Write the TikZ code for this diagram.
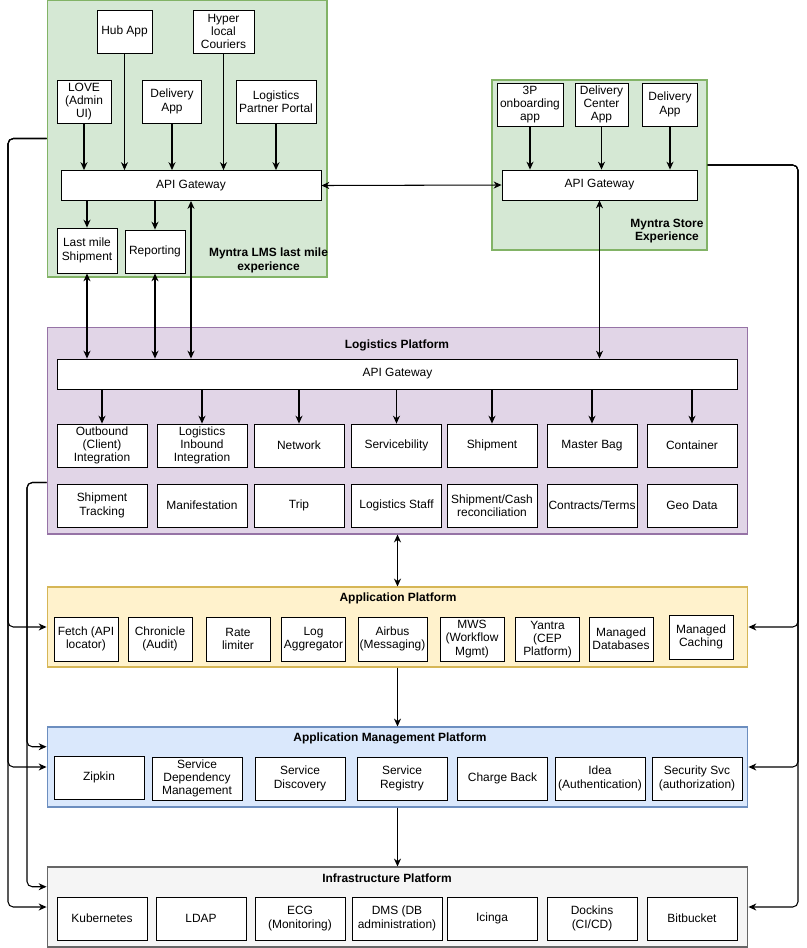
\documentclass[tikz,border=0pt]{standalone}
\usepackage{fontspec}
\setmainfont{Liberation Sans}
\usetikzlibrary{arrows.meta,calc}

\definecolor{lmsfill}{HTML}{D5E8D4}
\definecolor{lmsline}{HTML}{82B366}
\definecolor{lpfill}{HTML}{E1D5E7}
\definecolor{lpline}{HTML}{9673A6}
\definecolor{apfill}{HTML}{FFF2CC}
\definecolor{apline}{HTML}{D6B656}
\definecolor{ampfill}{HTML}{DAE8FC}
\definecolor{ampline}{HTML}{6C8EBF}
\definecolor{ipfill}{HTML}{F5F5F5}
\definecolor{ipline}{HTML}{666666}

\begin{document}
\begin{tikzpicture}[x=0.02cm, y=-0.02cm, font=\fontsize{6.8}{7.6}\selectfont]
    \tikzset{
      plat box/.style={draw, line width=0.6pt, inner sep=0pt},
      app box/.style={draw, fill=white, line width=0.5pt, align=center, inner sep=0.5pt,
        minimum width=1.8cm, minimum height=0.86cm},
      small box/.style={app box, minimum width=1.28cm, minimum height=0.88cm},
      gateway/.style={app box, minimum height=0.6cm},
      plat title/.style={font=\fontsize{6.8}{7.6}\selectfont\bfseries},
      group label/.style={font=\fontsize{6.8}{7.6}\selectfont\bfseries, align=center},
      conn/.style={-{Stealth[length=4.5pt,width=4pt]}, line width=0.6pt},
      biconn/.style={{Stealth[length=4.5pt,width=4pt]}-{Stealth[length=4.5pt,width=4pt]}, line width=0.6pt}
    }
    \useasboundingbox (0,0) rectangle (806,948);

    % Myntra LMS last mile experience
    \node[plat box, fill=lmsfill, draw=lmsline, minimum width=5.6cm, minimum height=5.54cm] (lms) at (187,138.5) {};
    \node[app box, minimum width=1.1cm] (hub) at (124.5,31.5) {Hub App};
    \node[app box, minimum width=1.22cm] (hyper) at (223.5,31.5) {Hyper\\local\\Couriers};
    \node[app box, minimum width=1.08cm] (love) at (84,101.5) {LOVE\\(Admin\\UI)};
    \node[app box, minimum width=1.18cm] (lmsdel) at (172,101.5) {Delivery\\App};
    \node[app box, minimum width=1.6cm] (partner) at (276,101.5) {Logistics\\Partner Portal};
    \node[gateway, minimum width=5.2cm] (lmsapi) at (191,185.5) {API Gateway};
    \node[app box, minimum width=1.2cm, minimum height=0.9cm] (lastmile) at (87,250.5) {Last mile\\Shipment};
    \node[app box, minimum width=1.2cm] (report) at (155,251.5) {Reporting};
    \node[group label] (lmslabel) at (268.5,260.5) {Myntra LMS last mile\\experience};

    % Myntra Store Experience
    \node[plat box, fill=lmsfill, draw=lmsline, minimum width=4.3cm, minimum height=3.4cm] (store) at (599.5,165) {};
    \node[app box, minimum width=1.32cm] (onboard) at (530,104.5) {3P\\onboarding\\app};
    \node[app box, minimum width=1.06cm] (dcapp) at (601.5,104.5) {Delivery\\Center\\App};
    \node[app box, minimum width=1.1cm] (storedel) at (670,104.5) {Delivery\\App};
    \node[gateway, minimum width=3.9cm] (storeapi) at (599.5,185) {API Gateway};
    \node[group label] (storelabel) at (667,231) {Myntra Store\\Experience};

    % Logistics Platform
    \node[plat box, fill=lpfill, draw=lpline, minimum width=14.02cm, minimum height=4.14cm] (lp) at (397.5,430.5) {};
    \node[plat title] (lptitle) at (397,345) {Logistics Platform};
    \node[gateway, minimum width=13.62cm] (lpapi) at (397.5,374) {API Gateway};
    \node[app box] (outbound) at (102,445.5) {Outbound\\(Client)\\Integration};
    \node[app box] (inbound) at (202,445.5) {Logistics\\Inbound\\Integration};
    \node[app box] (network) at (299,445.5) {Network};
    \node[app box] (service) at (396.5,445.5) {Servicebility};
    \node[app box] (shipment) at (492,445.5) {Shipment};
    \node[app box] (masterbag) at (592,445.5) {Master Bag};
    \node[app box] (container) at (692,445.5) {Container};
    \node[app box] (tracking) at (102,505.5) {Shipment\\Tracking};
    \node[app box] (manifest) at (202,505.5) {Manifestation};
    \node[app box] (trip) at (299,505.5) {Trip};
    \node[app box] (staff) at (396.5,505.5) {Logistics Staff};
    \node[app box] (cashrec) at (492,505.5) {Shipment/Cash\\reconciliation};
    \node[app box] (contracts) at (592,505.5) {Contracts/Terms};
    \node[app box] (geodata) at (692,505.5) {Geo Data};

    % Application Platform
    \node[plat box, fill=apfill, draw=apline, minimum width=14.02cm, minimum height=1.6cm] (ap) at (397.5,627) {};
    \node[plat title] (aptitle) at (398,598) {Application Platform};
    \node[small box] (fetch) at (86,639) {Fetch (API\\locator)};
    \node[small box] (chronicle) at (160,639) {Chronicle\\(Audit)};
    \node[small box] (ratelim) at (238,639) {Rate\\limiter};
    \node[small box] (logagg) at (313.5,639) {Log\\Aggregator};
    \node[small box, minimum width=1.38cm] (airbus) at (392.5,639) {Airbus\\(Messaging)};
    \node[small box] (mws) at (472,639) {MWS\\(Workflow\\Mgmt)};
    \node[small box] (yantra) at (547.5,639.5) {Yantra\\(CEP\\Platform)};
    \node[small box] (mdb) at (621,639) {Managed\\Databases};
    \node[small box] (mcache) at (701,637) {Managed\\Caching};

    % Application Management Platform
    \node[plat box, fill=ampfill, draw=ampline, minimum width=14.02cm, minimum height=1.6cm] (amp) at (397.5,767) {};
    \node[plat title] (amptitle) at (390,738) {Application Management Platform};
    \node[app box] (zipkin) at (99,777.5) {Zipkin};
    \node[app box] (sdm) at (197,778.5) {Service\\Dependency\\Management};
    \node[app box] (sdisc) at (300,778.5) {Service\\Discovery};
    \node[app box] (sreg) at (402,778.5) {Service\\Registry};
    \node[app box] (charge) at (502.5,778.5) {Charge Back};
    \node[app box] (idea) at (600,778.5) {Idea\\(Authentication)};
    \node[app box] (secsvc) at (697,778.5) {Security Svc\\(authorization)};

    % Infrastructure Platform
    \node[plat box, fill=ipfill, draw=ipline, minimum width=14.02cm, minimum height=1.6cm] (ip) at (397.5,907) {};
    \node[plat title] (iptitle) at (387,878) {Infrastructure Platform};
    \node[app box] (kube) at (102,918.5) {Kubernetes};
    \node[app box] (ldap) at (201,918.5) {LDAP};
    \node[app box] (ecg) at (300,918.5) {ECG\\(Monitoring)};
    \node[app box] (dms) at (397,918.5) {DMS (DB\\administration)};
    \node[app box] (icinga) at (492,918.5) {Icinga};
    \node[app box] (dockins) at (592,918.5) {Dockins\\(CI/CD)};
    \node[app box] (bitbucket) at (692,918.5) {Bitbucket};

    % Apps into the gateways
    \draw[conn] (love.south) -- (love.south |- lmsapi.north);
    \draw[conn] (hub.south) -- (hub.south |- lmsapi.north);
    \draw[conn] (lmsdel.south) -- (lmsdel.south |- lmsapi.north);
    \draw[conn] (hyper.south) -- (hyper.south |- lmsapi.north);
    \draw[conn] (partner.south) -- (partner.south |- lmsapi.north);
    \draw[conn] (lastmile.north |- lmsapi.south) -- (lastmile.north);
    \draw[conn] (report.north |- lmsapi.south) -- (report.north);
    \draw[conn] (onboard.south) -- (onboard.south |- storeapi.north);
    \draw[conn] (dcapp.south) -- (dcapp.south |- storeapi.north);
    \draw[conn] (storedel.south) -- (storedel.south |- storeapi.north);

    % Gateway to gateway
    \draw[biconn] (lmsapi.east) -- (storeapi.west);
    \draw[biconn] (lastmile.south) -- (lastmile.south |- lpapi.north);
    \draw[biconn] (report.south) -- (report.south |- lpapi.north);
    \draw[biconn] (lmsapi.south) -- (lmsapi.south |- lpapi.north);
    \draw[biconn] (storeapi.south) -- (storeapi.south |- lpapi.north);

    % Logistics gateway to services
    \draw[conn] (outbound.north |- lpapi.south) -- (outbound.north);
    \draw[conn] (inbound.north |- lpapi.south) -- (inbound.north);
    \draw[conn] (network.north |- lpapi.south) -- (network.north);
    \draw[conn] (service.north |- lpapi.south) -- (service.north);
    \draw[conn] (shipment.north |- lpapi.south) -- (shipment.north);
    \draw[conn] (masterbag.north |- lpapi.south) -- (masterbag.north);
    \draw[conn] (container.north |- lpapi.south) -- (container.north);

    % Platform stack
    \draw[biconn] (lp.south) -- (ap.north);
    \draw[conn] (ap.south) -- (amp.north);
    \draw[conn] (amp.south) -- (ip.north);

    % Side buses
    \coordinate (lbus) at (8,0);
    \coordinate (mbus) at (27,0);
    \coordinate (rbus) at (798,0);
    \coordinate (lpout) at ($(lp.north west)!0.75!(lp.south west)$);
    \coordinate (ampin) at ($(amp.north west)!0.25!(amp.south west)$);
    \coordinate (ipin) at ($(ip.north west)!0.25!(ip.south west)$);

    \draw[conn, rounded corners=3pt] (lms.west) -| (lbus |- ap.west) -- (ap.west);
    \draw[conn, rounded corners=3pt] (lms.west) -| (lbus |- amp.west) -- (amp.west);
    \draw[conn, rounded corners=3pt] (lms.west) -| (lbus |- ip.west) -- (ip.west);
    \draw[conn, rounded corners=3pt] (lpout) -| (mbus |- ampin) -- (ampin);
    \draw[conn, rounded corners=3pt] (lpout) -| (mbus |- ipin) -- (ipin);
    \draw[conn, rounded corners=3pt] (store.east) -| (rbus |- ap.east) -- (ap.east);
    \draw[conn, rounded corners=3pt] (store.east) -| (rbus |- amp.east) -- (amp.east);
    \draw[conn, rounded corners=3pt] (store.east) -| (rbus |- ip.east) -- (ip.east);
  \end{tikzpicture}
\end{document}
